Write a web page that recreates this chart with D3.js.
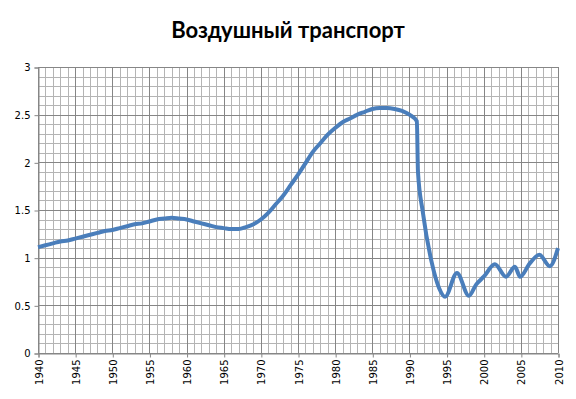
<!DOCTYPE html>
<html>
<head>
<meta charset="utf-8">
<script src="https://cdn.jsdelivr.net/npm/d3@7"></script>
<style>
  body { margin: 0; background: #fff; }
  .tick-label { font-family: "DejaVu Sans", Verdana, sans-serif; font-size: 10px; fill: #000; }
  .title { font-family: Lato, "Open Sans", sans-serif; font-weight: bold; font-size: 22px; }
</style>
</head>
<body>
<script>
// years (some fractional where the curve turns between whole years)
const years = [1940, 1941, 1942, 1943, 1944, 1945, 1946, 1947, 1948, 1949,
  1950, 1951, 1952, 1953, 1954, 1955, 1956, 1957, 1958, 1959,
  1960, 1961, 1962, 1963, 1964, 1965, 1966, 1967, 1968, 1969,
  1970, 1971, 1972, 1973, 1974, 1975, 1976, 1977, 1978, 1979,
  1980, 1981, 1982, 1983, 1984, 1985, 1986, 1987, 1988, 1989,
  1990, 1991, 1991.15, 1991.8, 1993, 1994, 1994.8, 1996.4, 1998, 1999,
  2000, 2001.5, 2003, 2004.2, 2004.9, 2006.2, 2007.5, 2008.9, 2010];
const values = [1.11, 1.13, 1.15, 1.17, 1.18, 1.20, 1.22, 1.24, 1.26, 1.28,
  1.29, 1.31, 1.33, 1.35, 1.36, 1.38, 1.40, 1.41, 1.42, 1.41,
  1.40, 1.38, 1.36, 1.34, 1.32, 1.31, 1.30, 1.30, 1.32, 1.35,
  1.40, 1.47, 1.56, 1.65, 1.76, 1.87, 1.99, 2.11, 2.20, 2.29,
  2.36, 2.42, 2.46, 2.50, 2.53, 2.56, 2.57, 2.57, 2.56, 2.54,
  2.50, 2.43, 1.90, 1.48, 0.95, 0.68, 0.59, 0.84, 0.60, 0.72,
  0.80, 0.93, 0.80, 0.905, 0.80, 0.94, 1.03, 0.91, 1.10];

const xTicks = d3.range(1940, 2011, 5);
const yTicks = [0, 0.5, 1, 1.5, 2, 2.5, 3];
const title = "Воздушный транспорт";

const width = 576, height = 399;
const margin = { top: 67, right: 18, bottom: 46, left: 38 };

const svg = d3.select("body").append("svg")
    .attr("width", width)
    .attr("height", height);

const x = d3.scaleLinear().domain([1940, 2010]).range([margin.left, width - margin.right]);
const y = d3.scaleLinear().domain([0, 3]).range([height - margin.bottom, margin.top]);

const snap = v => Math.round(v) + 0.5;

// minor grid
const grid = svg.append("g").attr("shape-rendering", "crispEdges");
grid.selectAll(".vminor")
    .data(d3.range(1940, 2011, 1).filter(d => d % 5 !== 0))
    .enter().append("line")
    .attr("x1", d => snap(x(d))).attr("x2", d => snap(x(d)))
    .attr("y1", y(0)).attr("y2", y(3))
    .attr("stroke", "#b4b4b4");
grid.selectAll(".hminor")
    .data(d3.range(0, 31, 1).filter(d => d % 5 !== 0).map(d => d / 10))
    .enter().append("line")
    .attr("x1", x(1940)).attr("x2", x(2010))
    .attr("y1", d => snap(y(d))).attr("y2", d => snap(y(d)))
    .attr("stroke", "#b4b4b4");

// major grid
grid.selectAll(".vmajor")
    .data(xTicks)
    .enter().append("line")
    .attr("x1", d => snap(x(d))).attr("x2", d => snap(x(d)))
    .attr("y1", y(0)).attr("y2", y(3) )
    .attr("stroke", "#868686");
grid.selectAll(".hmajor")
    .data(yTicks)
    .enter().append("line")
    .attr("x1", x(1940)).attr("x2", x(2010))
    .attr("y1", d => snap(y(d))).attr("y2", d => snap(y(d)))
    .attr("stroke", "#868686");

// y axis
const yAxis = svg.append("g")
    .attr("transform", "translate(" + snap(x(1940)) + ",0.5)")
    .call(d3.axisLeft(y).tickValues(yTicks).tickSize(4).tickPadding(4).tickFormat(d => String(d)));
yAxis.select(".domain").attr("stroke", "#868686");
yAxis.selectAll(".tick line").attr("stroke", "#868686");
yAxis.selectAll("text").attr("class", "tick-label");

// x axis
const xAxis = svg.append("g")
    .attr("transform", "translate(0.5," + snap(y(0)) + ")")
    .call(d3.axisBottom(x).tickValues(xTicks).tickSize(4).tickFormat(d3.format("d")));
xAxis.select(".domain").attr("stroke", "#868686");
xAxis.selectAll(".tick line").attr("stroke", "#868686");
xAxis.selectAll("text")
    .attr("class", "tick-label")
    .attr("transform", "rotate(-90)")
    .attr("x", -6).attr("y", 0).attr("dy", "0.35em")
    .attr("text-anchor", "end");

// data line
const pts = years.map((yr, i) => ({ year: yr, value: values[i] }));
const line = d3.line()
    .x(d => x(d.year))
    .y(d => y(d.value))
    .curve(d3.curveMonotoneX);

svg.append("path")
    .datum(pts)
    .attr("d", line)
    .attr("fill", "none")
    .attr("stroke", "#4a7ebb")
    .attr("stroke-width", 4)
    .attr("stroke-linejoin", "round");

// title
svg.append("text")
    .attr("class", "title")
    .attr("x", 288).attr("y", 38)
    .attr("text-anchor", "middle")
    .text(title);
</script>
</body>
</html>
